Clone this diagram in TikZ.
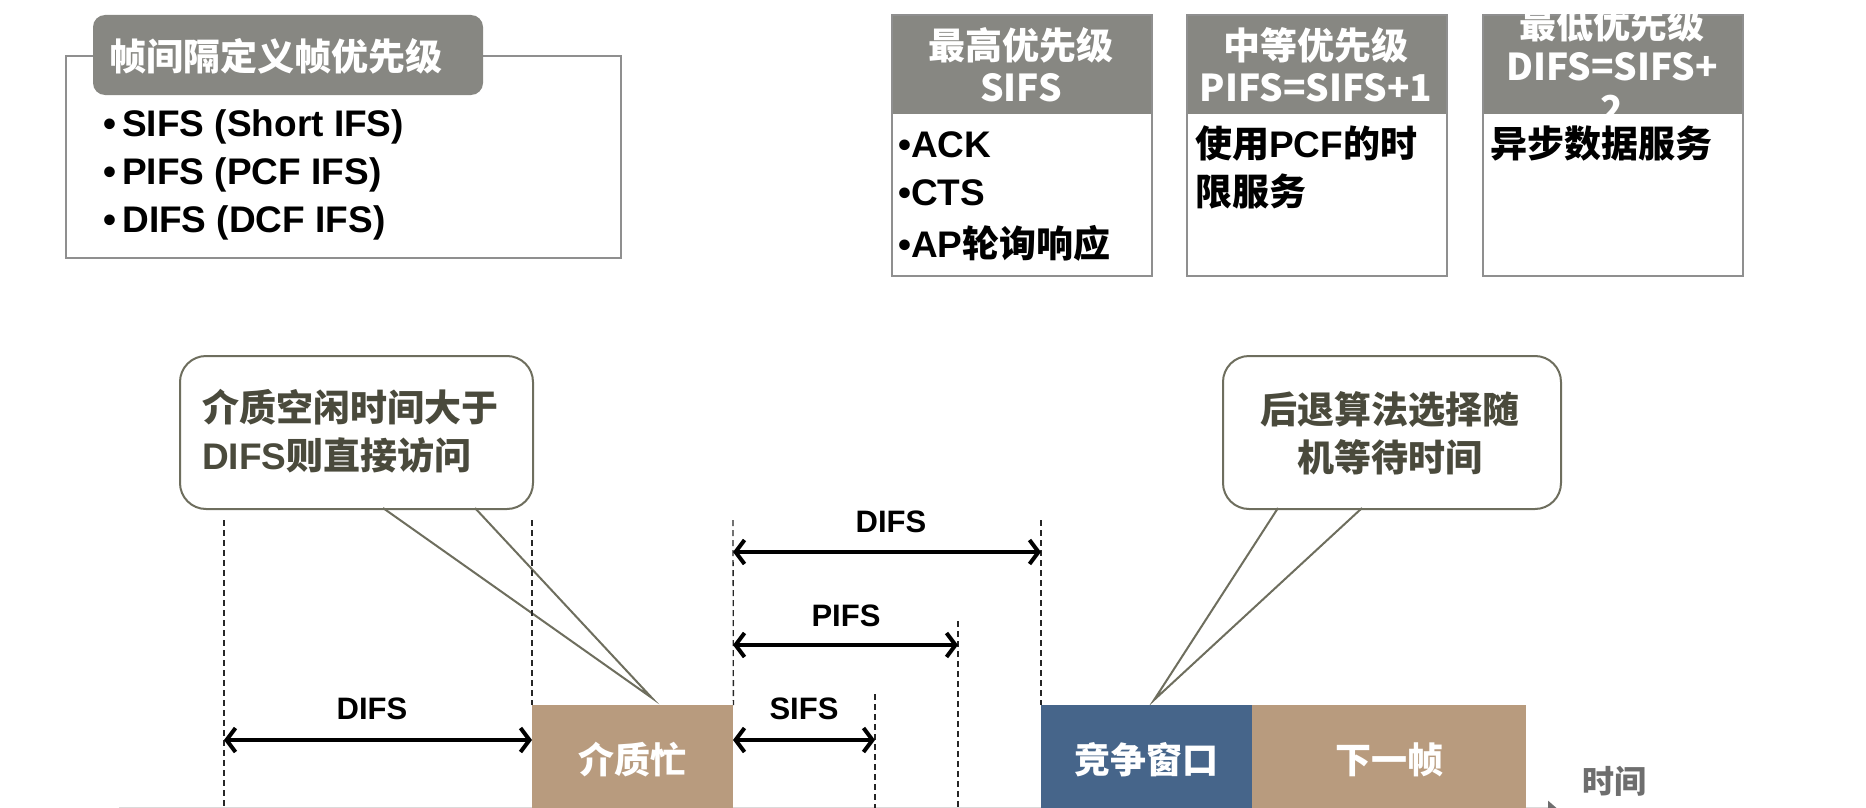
\documentclass[tikz,border=0pt]{standalone}
\usepackage{fontspec}
\setmainfont{Liberation Sans}
\newfontfamily\cjkfont{Noto Sans CJK SC}
\usetikzlibrary{arrows.meta}
\definecolor{hdrgray}{HTML}{878782}
\definecolor{boxgray}{HTML}{8F8F8F}
\definecolor{mytan}{HTML}{B89B7E}
\definecolor{winblue}{HTML}{46658A}
\definecolor{calloutline}{HTML}{6E6E5E}
\definecolor{callouttext}{HTML}{4A4A3C}
\definecolor{axisgray}{HTML}{DADADA}
\definecolor{timegray}{HTML}{6E6E6E}
\newcommand\zhb[1]{{\cjkfont\bfseries #1}}
\begin{document}
\begin{tikzpicture}[x=1pt,y=-1pt,
  infobox/.style={draw=boxgray, line width=1.6pt, fill=none, inner sep=0pt, anchor=north west},
  hdrfill/.style={fill=hdrgray, draw=none, inner sep=0pt, anchor=north west},
  hdrtext/.style={text=white, align=center, inner sep=0pt, font=\cjkfont\bfseries\fontsize{37}{42}\selectfont},
  bul/.style={anchor=west, inner sep=0pt, font=\bfseries\fontsize{37}{40}\selectfont},
  content/.style={anchor=west, inner sep=0pt, font=\bfseries\fontsize{37}{40}\selectfont},
  callout/.style={draw=calloutline, line width=2pt, fill=white, rounded corners=26pt, inner sep=0pt, anchor=north west},
  pointer/.style={draw=calloutline, line width=2pt},
  callouttxt/.style={text=callouttext, inner sep=0pt, font=\bfseries\fontsize{37}{48}\selectfont},
  vdash/.style={draw=black!85, line width=1.3pt, dash pattern=on 6pt off 4pt},
  dimarrow/.style={line width=4pt, {Straight Barb[length=9pt,width=24pt]}-{Straight Barb[length=9pt,width=24pt]}},
  dimlabel/.style={inner sep=0pt, font=\bfseries\fontsize{31}{36}\selectfont},
  slot/.style={draw=none, inner sep=0pt, anchor=north west, minimum height=110pt},
  slottext/.style={text=white, inner sep=0pt, font=\cjkfont\bfseries\fontsize{36}{42}\selectfont},
]
\useasboundingbox (0,0) rectangle (1866,808);

% ---------- left definition box ----------
\node[infobox, minimum width=555pt, minimum height=202pt] (lbox) at (65,55) {};
\node[fill=hdrgray, rounded corners=12pt, minimum width=390pt, minimum height=80pt, inner sep=0pt] (lhead) at (288,55) {};
\node[hdrtext] (lheadt) at (276,56) {帧间隔定义帧优先级};
\node[bul] (l1) at (103,127) {\textbullet\,SIFS (Short IFS)};
\node[bul] (l2) at (103,175) {\textbullet\,PIFS (PCF IFS)};
\node[bul] (l3) at (103,223) {\textbullet\,DIFS (DCF IFS)};

% ---------- priority boxes ----------
\node[hdrfill, minimum width=260pt, minimum height=100pt] (b1h) at (891,14) {};
\node[infobox, minimum width=260pt, minimum height=261pt] (b1) at (891,14) {};
\node[hdrtext] (b1t) at (1021,65) {最高优先级\\SIFS};

\node[hdrfill, minimum width=260pt, minimum height=100pt] (b2h) at (1186,14) {};
\node[infobox, minimum width=260pt, minimum height=261pt] (b2) at (1186,14) {};
\node[hdrtext] (b2t) at (1316,65) {中等优先级\\PIFS=SIFS+1};

\node[hdrfill, minimum width=260pt, minimum height=100pt] (b3h) at (1482,14) {};
\node[infobox, minimum width=260pt, minimum height=261pt] (b3) at (1482,14) {};
\begin{scope}
  \clip (1482,14) rectangle (1742,114);
  \node[hdrtext] (b3t) at (1612,64) {最低优先级\\DIFS=SIFS+\\2};
\end{scope}

\node[content] (c1a) at (898,145) {\textbullet ACK};
\node[content] (c1b) at (898,193) {\textbullet CTS};
\node[content] (c1c) at (898,243) {\textbullet AP\zhb{轮询响应}};
\node[content] (c2a) at (1195,143) {\zhb{使用}PCF\zhb{的时}};
\node[content] (c2b) at (1195,191) {\zhb{限服务}};
\node[content] (c3a) at (1490,144) {\zhb{异步数据服务}};

% ---------- axis ----------
\coordinate (ax0) at (119,811);
\coordinate (ax1) at (1560,811);
\draw[draw=axisgray, line width=8pt, -{Triangle[length=12pt,width=20pt,color=timegray]}] (ax0) -- (ax1);
\node[text=timegray, inner sep=0pt, font=\cjkfont\bfseries\fontsize{32}{36}\selectfont] (tlabel) at (1614,781) {时间};

% ---------- callouts ----------
\node[callout, minimum width=353pt, minimum height=153pt] (co1) at (179,355) {};
\coordinate (p1a) at (383,508);
\coordinate (p1tip) at (652,698);
\coordinate (p1b) at (475,508);
\fill[white] ([yshift=-3pt]p1a) -- (p1tip) -- ([yshift=-3pt]p1b) -- cycle;
\draw[pointer] (p1a) -- (p1tip) -- (p1b);
\node[callouttxt, align=left, anchor=west] (co1t) at (202,431) {\zhb{介质空闲时间大于}\\DIFS\zhb{则直接访问}};

\node[callout, minimum width=338pt, minimum height=153pt] (co2) at (1222,355) {};
\coordinate (p2a) at (1278,508);
\coordinate (p2tip) at (1154,700);
\coordinate (p2b) at (1362,508);
\fill[white] ([yshift=-3pt]p2a) -- (p2tip) -- ([yshift=-3pt]p2b) -- cycle;
\draw[pointer] (p2a) -- (p2tip) -- (p2b);
\node[callouttxt, align=center] (co2t) at (1390,433) {\zhb{后退算法选择随}\\\zhb{机等待时间}};

% ---------- time slots ----------
\node[slot, fill=mytan, minimum width=201pt] (busy) at (532,705) {};
\node[slot, fill=winblue, minimum width=211pt] (cw) at (1041,705) {};
\node[slot, fill=mytan, minimum width=274pt] (nxt) at (1252,705) {};
\node[slottext] (busyt) at (632,760) {介质忙};
\node[slottext] (cwt) at (1146,760) {竞争窗口};
\node[slottext] (nxtt) at (1389,760) {下一帧};

% ---------- dashed markers ----------
\coordinate (v1t) at (224,520); \coordinate (v1b) at (224,808);
\coordinate (v2t) at (532,520);
\coordinate (v3t) at (733,520);
\coordinate (v4t) at (875,694); \coordinate (v4b) at (875,808);
\coordinate (v5t) at (958,621); \coordinate (v5b) at (958,808);
\coordinate (v6t) at (1041,520);
\draw[vdash] (v1t) -- (v1b);
\draw[vdash] (v2t) -- (busy.north west);
\draw[vdash] (v3t) -- (busy.north east);
\draw[vdash] (v4t) -- (v4b);
\draw[vdash] (v5t) -- (v5b);
\draw[vdash] (v6t) -- (cw.north west);

% ---------- dimension arrows ----------
\coordinate (a1l) at (224,740); \coordinate (a1r) at (532,740);
\coordinate (a2l) at (733,740); \coordinate (a2r) at (875,740);
\coordinate (a3l) at (733,645); \coordinate (a3r) at (958,645);
\coordinate (a4l) at (733,552); \coordinate (a4r) at (1041,552);
\draw[dimarrow] (a1l) -- (a1r);
\draw[dimarrow] (a2l) -- (a2r);
\draw[dimarrow] (a3l) -- (a3r);
\draw[dimarrow] (a4l) -- (a4r);
\node[dimlabel] (lab1) at (372,709) {DIFS};
\node[dimlabel] (lab2) at (804,709) {SIFS};
\node[dimlabel] (lab3) at (846,616) {PIFS};
\node[dimlabel] (lab4) at (891,522) {DIFS};
\end{tikzpicture}
\end{document}
